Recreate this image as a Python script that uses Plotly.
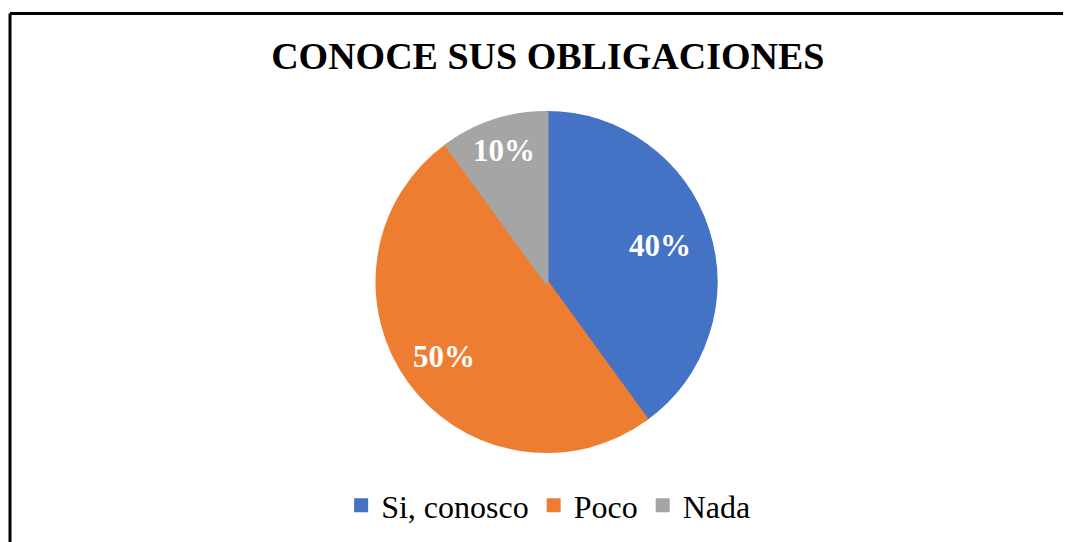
import math
import plotly.graph_objects as go

categories = ["Si, conosco", "Poco", "Nada"]
values = [40, 50, 10]
colors = ["#4472C4", "#ED7D31", "#A5A5A5"]
title_text = "CONOCE SUS OBLIGACIONES"

SERIF = "Liberation Serif"

W, H = 1071, 542
ML, MR, MT, MB = 6, 0, 105, 99
PW, PH = W - ML - MR, H - MT - MB
LW = 4
R = min(PW, PH) / 2 + LW / 2
label_frac = [0.70, 0.74, 0.81]

fig = go.Figure(go.Pie(
    labels=categories,
    values=values,
    sort=False,
    direction="clockwise",
    rotation=0,
    marker=dict(colors=colors, line=dict(width=LW, color=colors)),
    textinfo="none",
    hoverinfo="label+percent",
))

# percentage labels placed at each slice's mid-angle
total = sum(values)
annotations = []
cum = 0
for v, f in zip(values, label_frac):
    mid = (cum + v / 2) / total * 2 * math.pi
    cum += v
    dx = f * R * math.sin(mid)
    dy = f * R * math.cos(mid)
    annotations.append(dict(
        x=0.5 + dx / PW, y=0.5 + dy / PH, xref="paper", yref="paper",
        text="<b>%d%%</b>" % round(v / total * 100), showarrow=False,
        font=dict(family=SERIF, size=31, color="white"),
        xanchor="center", yanchor="middle",
    ))

top_y = 1 + (MT - 5.5) / PH
left_x = (2 - ML) / PW

fig.update_layout(
    width=W, height=H,
    margin=dict(l=ML, r=MR, t=MT, b=MB),
    paper_bgcolor="white",
    plot_bgcolor="white",
    title=dict(text="<b>" + title_text + "</b>", x=0.504, xanchor="center", y=0.912, yanchor="middle",
               font=dict(family=SERIF, size=38, color="black")),
    legend=dict(orientation="h", x=0.502, xanchor="center", y=-0.08, yanchor="top",
                font=dict(family=SERIF, size=32, color="black"),
                itemsizing="constant"),
    annotations=annotations,
    shapes=[
        dict(type="line", xref="paper", yref="paper", x0=left_x, x1=1.05, y0=top_y, y1=top_y,
             line=dict(color="black", width=3)),
        dict(type="line", xref="paper", yref="paper", x0=left_x, x1=left_x, y0=top_y, y1=-0.4,
             line=dict(color="black", width=3)),
    ],
)

fig.write_html("out.html")
